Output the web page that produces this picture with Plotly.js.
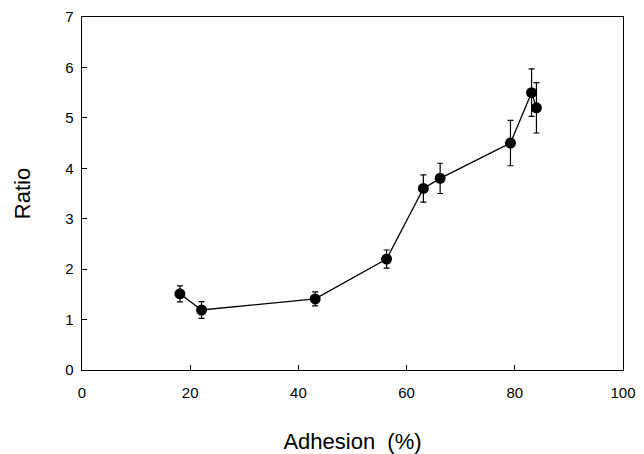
<!DOCTYPE html>
<html>
<head>
<meta charset="utf-8">
<script src="https://cdn.plot.ly/plotly-3.0.1.min.js"></script>
<style>html,body{margin:0;padding:0;background:#fff;}</style>
</head>
<body>
<div id="chart" style="width:644px;height:454px;"></div>
<script>
const adhesion = [18.1, 22.1, 43.1, 56.3, 63.1, 66.2, 79.2, 83.1, 84.0];
const ratio    = [1.51, 1.19, 1.41, 2.20, 3.60, 3.80, 4.50, 5.50, 5.20];
const ratioErr = [0.16, 0.165, 0.14, 0.18, 0.27, 0.30, 0.45, 0.47, 0.50];
const xTicks = [0, 20, 40, 60, 80, 100];
const yTicks = [0, 1, 2, 3, 4, 5, 6, 7];

const trace = {
  x: adhesion, y: ratio, type: 'scatter', mode: 'lines+markers',
  line: {color: '#000', width: 1.3},
  marker: {color: '#000', size: 11},
  error_y: {type: 'data', array: ratioErr, visible: true, color: '#000', thickness: 1.2, width: 3}
};
const layout = {
  width: 644, height: 454,
  margin: {l: 82, r: 21, t: 17, b: 84},
  paper_bgcolor: '#fff', plot_bgcolor: '#fff',
  showlegend: false,
  font: {family: 'Liberation Sans, Arial, sans-serif', color: '#000'},
  xaxis: {
    range: [0, 100], tickvals: xTicks, ticktext: xTicks.map(String),
    ticks: 'inside', ticklen: 5, tickcolor: '#000',
    showline: true, linecolor: '#000', linewidth: 1.3, mirror: true,
    showgrid: false, zeroline: false,
    ticklabelstandoff: 9,
    tickfont: {size: 15, color: '#000'},
    title: {text: 'Adhesion  (%)', font: {size: 22, color: '#000'}, standoff: 36}
  },
  yaxis: {
    range: [0, 7], tickvals: yTicks, ticktext: yTicks.map(String),
    ticks: 'inside', ticklen: 5, tickcolor: '#000',
    showline: true, linecolor: '#000', linewidth: 1.3, mirror: true,
    showgrid: false, zeroline: false,
    ticklabelstandoff: 4,
    tickfont: {size: 15, color: '#000'},
    title: {text: 'Ratio', font: {size: 22, color: '#000'}, standoff: 28}
  }
};
Plotly.newPlot('chart', [trace], layout, {displayModeBar: false, staticPlot: true});
</script>
</body>
</html>
